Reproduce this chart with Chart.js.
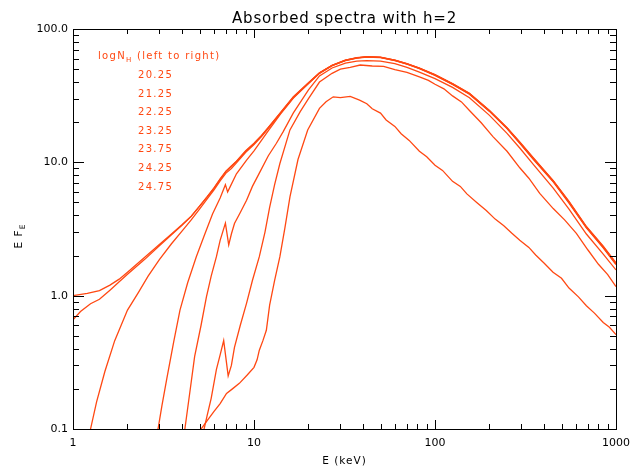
<!DOCTYPE html>
<html>
<head>
<meta charset="utf-8">
<script src="https://cdn.jsdelivr.net/npm/chart.js@4.4.1/dist/chart.umd.min.js"></script>
<style>
    html, body { margin: 0; padding: 0; background: #fff; }
</style>
</head>
<body>
<canvas id="spectraChart" width="641" height="468"></canvas>
<script>
// logN_H values, one curve each (left to right)
const logNH = ['20.25', '21.25', '22.25', '23.25', '23.75', '24.25', '24.75'];

// energy (keV) and E*F_E for each curve
const e2025 = [1, 1.2, 1.4, 1.6, 1.8, 2, 2.5, 3, 3.5, 4, 4.5, 5, 5.5, 6, 6.5, 7, 7.5, 8, 9, 10, 11, 12, 14, 16.5, 20, 23, 27, 32, 37, 42, 50, 60, 70, 82, 100, 125, 155, 200, 250, 294, 350, 450, 550, 686, 850, 1000];
const f2025 = [1.0, 1.04, 1.09, 1.2, 1.33, 1.5, 1.95, 2.42, 2.9, 3.4, 3.95, 4.7, 5.5, 6.4, 7.5, 8.6, 9.4, 10.2, 12.2, 13.9, 15.9, 18.3, 23.6, 31, 39.5, 47, 53.5, 58.5, 61, 62, 61.5, 58.5, 55, 51, 45.5, 39, 33, 24.5, 18.2, 14.2, 10.8, 7.3, 5.1, 3.3, 2.35, 1.76];

const e2125 = [1, 1.1, 1.25, 1.4, 1.6, 1.8, 2, 2.5, 3, 3.5, 4, 4.5, 5, 5.5, 6, 6.5, 7, 7.5, 8, 9, 10, 11, 12, 14, 16.5, 20, 23, 27, 32, 37, 42, 50, 60, 70, 82, 100, 125, 155, 200, 250, 294, 350, 450, 550, 686, 850, 1000];
const f2125 = [0.66, 0.76, 0.87, 0.94, 1.1, 1.27, 1.45, 1.88, 2.37, 2.86, 3.37, 3.93, 4.68, 5.48, 6.38, 7.45, 8.55, 9.35, 10.15, 12.1, 13.8, 15.8, 18.2, 23.5, 30.8, 39.3, 46.8, 53.3, 58.3, 60.8, 61.8, 61.3, 58.3, 54.8, 50.8, 45.3, 38.8, 32.8, 24.4, 18.1, 14.1, 10.7, 7.25, 5.05, 3.28, 2.33, 1.74];

const e2225 = [1.15, 1.25, 1.35, 1.5, 1.7, 2, 2.3, 2.6, 3, 3.5, 4, 4.5, 5, 5.5, 6, 6.5, 7, 7.5, 8, 9, 10, 11, 12, 14, 16.5, 20, 23, 27, 32, 37, 42, 50, 60, 70, 82, 100, 125, 155, 200, 250, 294, 350, 450, 550, 686, 850, 1000];
const f2225 = [0.05, 0.1, 0.16, 0.27, 0.46, 0.78, 1.06, 1.4, 1.86, 2.45, 3.05, 3.7, 4.45, 5.3, 6.2, 7.25, 8.3, 9.0, 9.9, 11.9, 13.6, 15.6, 18.0, 23.3, 30.6, 39.2, 46.7, 53.2, 58.2, 60.7, 61.7, 61.2, 58.2, 54.7, 50.6, 45.1, 38.6, 32.6, 24.3, 18.0, 14.0, 10.6, 7.2, 5.0, 3.25, 2.3, 1.73];

const e2325 = [2.8, 2.95, 3.1, 3.3, 3.6, 3.9, 4.3, 4.8, 5.3, 5.9, 6.5, 6.95, 7.15, 7.4, 8, 9.1, 10, 11.9, 14, 16.5, 20, 23, 27, 32, 37, 42, 50, 60, 70, 82, 100, 125, 155, 200, 250, 294, 350, 450, 550, 686, 850, 1000];
const f2325 = [0.07, 0.1, 0.15, 0.24, 0.45, 0.78, 1.25, 1.96, 2.8, 4.1, 5.4, 6.8, 6.0, 6.6, 8.2, 10.4, 12.2, 17, 23, 30.3, 39, 46.5, 53, 58, 60.5, 61.5, 61, 58, 54.5, 50.4, 44.9, 38.4, 32.4, 24.1, 17.9, 13.9, 10.5, 7.15, 4.95, 3.22, 2.28, 1.71];

const e2375 = [4.0, 4.15, 4.4, 4.7, 5.1, 5.46, 5.8, 6.2, 6.5, 6.95, 7.25, 7.5, 7.8, 8.4, 9.1, 9.8, 10.7, 12, 13.3, 14.5, 16.5, 20, 23, 27, 32, 37, 42, 50, 60, 70, 82, 100, 125, 155, 200, 250, 294, 350, 450, 550, 686, 850, 1000];
const f2375 = [0.07, 0.1, 0.18, 0.35, 0.6, 0.98, 1.4, 1.96, 2.6, 3.5, 2.4, 2.9, 3.48, 4.2, 5.2, 6.6, 8.3, 11.2, 13.9, 17, 23.5, 35, 44.5, 51, 55.5, 57.5, 58, 57.5, 55, 51.5, 47.5, 42.5, 36.5, 30.5, 22.5, 16.5, 12.8, 9.6, 6.4, 4.45, 2.9, 2.05, 1.56];

const e2425 = [5.0, 5.3, 5.5, 5.8, 6.2, 6.5, 6.8, 7.2, 7.5, 7.8, 8.4, 9.1, 9.8, 10.7, 11.5, 12.2, 13, 13.9, 15.8, 18, 20, 23, 27, 30, 34, 38.6, 45, 52, 60, 70, 82, 92, 100, 112, 125, 140, 155, 180, 209, 250, 294, 330, 379, 450, 520, 604, 700, 800, 900, 1000];
const f2425 = [0.07, 0.1, 0.125, 0.17, 0.28, 0.36, 0.46, 0.25, 0.3, 0.41, 0.6, 0.88, 1.3, 1.96, 3.0, 4.6, 6.8, 9.8, 17.5, 24, 30, 40, 46.5, 50, 51.5, 53.7, 52.8, 52.5, 49.5, 47.3, 43.8, 41.2, 38.5, 35.6, 31.5, 28.4, 24.5, 19.8, 15.6, 12.1, 9.1, 7.6, 5.85, 4.5, 3.7, 2.93, 2.2, 1.72, 1.44, 1.17];

const e2475 = [4.9, 5.1, 5.5, 6, 6.5, 7.05, 7.6, 8.3, 9.2, 10, 10.4, 10.7, 11.2, 11.7, 12.2, 13, 13.9, 14.8, 15.8, 17.5, 19.8, 23, 25, 27.4, 30, 34, 38.3, 42, 45, 50, 53.7, 60, 65, 72, 82, 90, 100, 110, 125, 138, 150, 170, 192, 215, 240, 265, 294, 330, 360, 400, 449, 500, 550, 620, 686, 760, 850, 920, 1000];
const f2475 = [0.08, 0.1, 0.115, 0.135, 0.155, 0.185, 0.2, 0.22, 0.255, 0.29, 0.33, 0.39, 0.46, 0.55, 0.85, 1.3, 1.96, 3.2, 5.5, 10.5, 17.5, 25.4, 28.5, 31, 30.6, 31.2, 29.3, 27.5, 25.2, 23.4, 20.8, 18.6, 16.4, 14.6, 12.1, 11.0, 9.5, 8.7, 7.2, 6.6, 5.8, 5.0, 4.35, 3.75, 3.35, 2.95, 2.6, 2.3, 2.02, 1.76, 1.5, 1.35, 1.14, 0.98, 0.84, 0.74, 0.63, 0.58, 0.51];

const xTicks = [1, 10, 100, 1000];
const xTickLabels = ['1', '10', '100', '1000'];
const yTicks = [0.1, 1, 10, 100];
const yTickLabels = ['0.1', '1.0', '10.0', '100.0'];

const lineColor = 'rgb(255, 72, 18)';
const curves = [
    [e2025, f2025], [e2125, f2125], [e2225, f2225], [e2325, f2325],
    [e2375, f2375], [e2425, f2425], [e2475, f2475]
];

const datasets = curves.map((c, i) => ({
    label: logNH[i],
    data: c[0].map((e, j) => ({ x: e, y: c[1][j] })),
    borderColor: lineColor,
    borderWidth: 1.3,
    pointRadius: 0,
    tension: 0,
    fill: false,
}));

// IDL style frame: inward ticks on all four sides
const idlFrame = {
    id: 'idlFrame',
    afterDraw(chart) {
        const ctx = chart.ctx;
        const a = chart.chartArea;
        const x = chart.scales.x;
        const y = chart.scales.y;
        const L = Math.round(a.left), R = Math.round(a.right);
        const T = Math.round(a.top), B = Math.round(a.bottom);
        ctx.save();
        ctx.fillStyle = '#000';
        ctx.fillRect(L, T, R - L + 1, 1);
        ctx.fillRect(L, B, R - L + 1, 1);
        ctx.fillRect(L, T, 1, B - T + 1);
        ctx.fillRect(R, T, 1, B - T + 1);

        [1, 10, 100].forEach(d => {
            for (let m = 1; m <= 10; m++) {
                const px = Math.round(x.getPixelForValue(d * m));
                const len = (m === 1 || m === 10) ? 9 : 5;
                ctx.fillRect(px, B - len, 1, len);
                ctx.fillRect(px, T, 1, len);
            }
        });
        [0.1, 1, 10].forEach(d => {
            for (let m = 1; m <= 10; m++) {
                const py = Math.round(y.getPixelForValue(d * m));
                const len = (m === 1 || m === 10) ? 11 : 6;
                ctx.fillRect(L, py, len, 1);
                ctx.fillRect(R - len, py, len, 1);
            }
        });
        ctx.restore();
    }
};

// title, legend text and axis titles
const idlText = {
    id: 'idlText',
    afterDraw(chart) {
        const ctx = chart.ctx;
        const a = chart.chartArea;
        const cx = (a.left + a.right) / 2;
        ctx.save();
        ctx.fillStyle = '#000';
        ctx.textBaseline = 'alphabetic';
        ctx.textAlign = 'center';
        ctx.letterSpacing = '0.8px';
        ctx.font = '15px "DejaVu Sans"';
        ctx.fillText('Absorbed spectra with h=2', cx, 23);

        ctx.fillStyle = lineColor;
        ctx.letterSpacing = '1.3px';
        ctx.textAlign = 'left';
        ctx.font = '10px "DejaVu Sans"';
        let tx = 98;
        ctx.fillText('logN', tx, 59);
        tx += ctx.measureText('logN').width;
        ctx.font = '7px "DejaVu Sans"';
        ctx.fillText('H', tx, 62);
        tx += ctx.measureText('H').width;
        ctx.font = '10px "DejaVu Sans"';
        ctx.fillText(' (left to right)', tx, 59);
        logNH.forEach((v, i) => ctx.fillText(v, 138, 78 + i * 18.6));

        ctx.fillStyle = '#000';
        ctx.letterSpacing = '1px';
        ctx.font = '10.5px "DejaVu Sans"';
        ctx.textAlign = 'center';
        ctx.fillText('E (keV)', cx, 464);

        ctx.translate(22, 236);
        ctx.rotate(-Math.PI / 2);
        ctx.textAlign = 'left';
        const w1 = ctx.measureText('E F').width;
        ctx.font = '7.5px "DejaVu Sans"';
        const w2 = ctx.measureText('E').width;
        const x0 = -(w1 + w2) / 2;
        ctx.font = '10.5px "DejaVu Sans"';
        ctx.fillText('E F', x0, 0);
        ctx.font = '7.5px "DejaVu Sans"';
        ctx.fillText('E', x0 + w1, 3);
        ctx.letterSpacing = '0px';
        ctx.restore();
    }
};

const tickFont = { family: 'DejaVu Sans', size: 11 };

const chart = new Chart(document.getElementById('spectraChart'), {
    type: 'line',
    data: { datasets: datasets },
    options: {
        responsive: false,
        animation: false,
        layout: { padding: { left: 0, right: 25, top: 29, bottom: 0 } },
        plugins: {
            legend: { display: false },
            tooltip: { enabled: false },
            title: { display: false },
        },
        scales: {
            x: {
                type: 'logarithmic',
                min: 1,
                max: 1000,
                afterBuildTicks: s => { s.ticks = xTicks.map(v => ({ value: v })); },
                afterFit: s => { s.height = 39; },
                ticks: {
                    callback: (v, i) => xTickLabels[i],
                    color: '#000',
                    font: tickFont,
                    padding: 8,
                    maxRotation: 0,
                    autoSkip: false,
                },
                grid: { display: false, drawTicks: false },
                border: { display: false },
            },
            y: {
                type: 'logarithmic',
                min: 0.1,
                max: 100,
                afterBuildTicks: s => { s.ticks = yTicks.map(v => ({ value: v })); },
                afterFit: s => { s.width = 73; },
                ticks: {
                    callback: (v, i) => yTickLabels[i],
                    color: '#000',
                    font: tickFont,
                    padding: 5,
                    autoSkip: false,
                },
                grid: { display: false, drawTicks: false },
                border: { display: false },
            },
        },
    },
    plugins: [idlFrame, idlText],
});
</script>
</body>
</html>
